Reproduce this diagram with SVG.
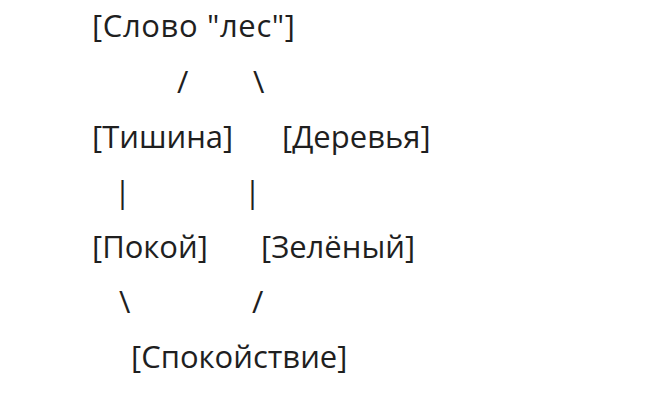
<svg xmlns="http://www.w3.org/2000/svg" width="656" height="404" viewBox="0 0 656 404">
<style>
text{font-family:"Open Sans","Noto Sans","DejaVu Sans",sans-serif;font-size:31px;fill:#1f1f1f}
</style>
<rect width="656" height="404" fill="#ffffff"/>
<g id="node-les"><text x="92" y="37" textLength="203" lengthAdjust="spacing">[Слово "лес"]</text></g>
<g id="node-tishina"><text x="92" y="148">[Тишина]</text></g>
<g id="node-derevya"><text x="282" y="148">[Деревья]</text></g>
<g id="node-pokoy"><text x="92" y="258">[Покой]</text></g>
<g id="node-zelyony"><text x="261" y="258">[Зелёный]</text></g>
<g id="node-spokoystvie"><text x="131" y="368">[Спокойствие]</text></g>
<g id="connectors">
<text x="177" y="93">/</text>
<text x="253" y="93">\</text>
<text x="114" y="203">|</text>
<text x="244" y="203">|</text>
<text x="119" y="313">\</text>
<text x="252" y="313">/</text>
</g>
</svg>
